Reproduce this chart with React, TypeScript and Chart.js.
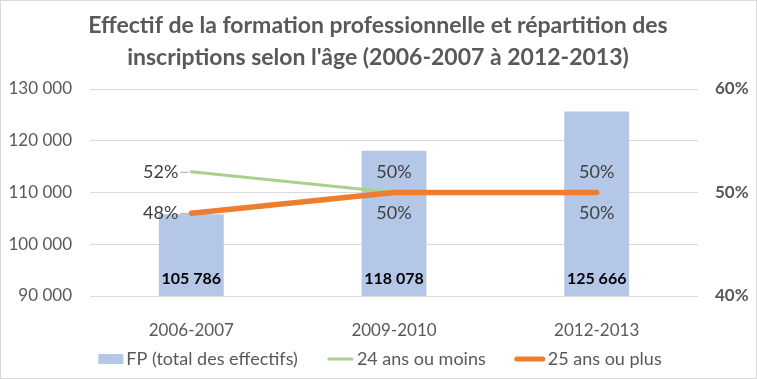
import React, { useEffect, useRef } from "react";
import { Chart, registerables } from "chart.js";

Chart.register(...registerables);

const categories = ["2006-2007", "2009-2010", "2012-2013"];
const totalFP = [105786, 118078, 125666];
const age24OrLess = [0.52, 0.5, 0.5];
const age25OrMore = [0.48, 0.5, 0.5];
const titleLines = [
  "Effectif de la formation professionnelle et répartition des",
  "inscriptions selon l'âge (2006-2007 à 2012-2013)",
];
const seriesNames = ["FP (total des effectifs)", "24 ans ou moins", "25 ans ou plus"];
const greenLabelPos = ["left", "above", "above"];
const orangeLabelPos = ["left", "below", "below"];

const FONT = "Lato, 'Open Sans', sans-serif";
const BAR_COLOR = "#B4C7E7";
const GREEN = "#A9D18E";
const ORANGE = "#ED7D31";
const TEXT = "#595959";

const fmtThousands = (v: number) =>
  String(Math.round(v)).replace(/\B(?=(\d{3})+(?!\d))/g, " ");

const decorPlugin = {
  id: "decor",
  beforeDraw(chart: any) {
    const { ctx, width, height } = chart;
    ctx.save();
    ctx.fillStyle = "#ffffff";
    ctx.fillRect(0, 0, width, height);
    ctx.strokeStyle = "#d9d9d9";
    ctx.lineWidth = 1;
    ctx.strokeRect(0.5, 0.5, width - 1, height - 1);
    // title
    ctx.fillStyle = TEXT;
    ctx.font = `bold 23px ${FONT}`;
    ctx.textAlign = "center";
    ctx.textBaseline = "alphabetic";
    ctx.fillText(titleLines[0], 378, 33);
    ctx.fillText(titleLines[1], 378, 65);
    ctx.restore();
  },
  afterDraw(chart: any) {
    const { ctx } = chart;
    ctx.save();
    ctx.font = `18px ${FONT}`;
    ctx.textBaseline = "middle";
    ctx.textAlign = "left";
    const swW = [25, 27, 30];
    const gapText = 3;
    const gapItem = 29;
    const widths = seriesNames.map((n) => ctx.measureText(n).width);
    let total = 0;
    widths.forEach((w, i) => {
      total += swW[i] + gapText + w;
      if (i < widths.length - 1) total += gapItem;
    });
    let x = 380 - total / 2;
    const y = 359;
    seriesNames.forEach((n, i) => {
      if (i === 0) {
        ctx.fillStyle = BAR_COLOR;
        ctx.fillRect(x, y - 5, swW[i], 10);
      } else {
        ctx.strokeStyle = i === 1 ? GREEN : ORANGE;
        ctx.lineWidth = i === 1 ? 3 : 5;
        ctx.lineCap = "round";
        ctx.beginPath();
        ctx.moveTo(x + 2, y);
        ctx.lineTo(x + swW[i] - 2, y);
        ctx.stroke();
      }
      x += swW[i] + gapText;
      ctx.fillStyle = TEXT;
      ctx.fillText(n, x, y);
      x += widths[i] + gapItem;
    });
    ctx.restore();
  },
  afterDatasetsDraw(chart: any) {
    const { ctx } = chart;
    ctx.save();
    // bar labels
    const barMeta = chart.getDatasetMeta(0);
    const yScale = chart.scales.y;
    ctx.font = `bold 16px ${FONT}`;
    ctx.fillStyle = "#000000";
    ctx.textAlign = "center";
    ctx.textBaseline = "middle";
    barMeta.data.forEach((el: any, i: number) => {
      ctx.fillText(fmtThousands(totalFP[i]), el.x, yScale.bottom - 17);
    });
    // line labels
    ctx.font = `18px ${FONT}`;
    const drawLineLabels = (dsIndex: number, values: number[], pos: string[]) => {
      const meta = chart.getDatasetMeta(dsIndex);
      meta.data.forEach((el: any, i: number) => {
        const txt = Math.round(values[i] * 100) + "%";
        ctx.fillStyle = "#404040";
        if (pos[i] === "left") {
          ctx.textAlign = "right";
          ctx.fillText(txt, el.x - 13, el.y);
          ctx.strokeStyle = "#a6a6a6";
          ctx.lineWidth = 1;
          ctx.beginPath();
          ctx.moveTo(el.x - 11, el.y + 0.5);
          ctx.lineTo(el.x - 3, el.y + 0.5);
          ctx.stroke();
        } else if (pos[i] === "above") {
          ctx.textAlign = "center";
          ctx.fillText(txt, el.x, el.y - 20);
        } else {
          ctx.textAlign = "center";
          ctx.fillText(txt, el.x, el.y + 21);
        }
      });
    };
    drawLineLabels(1, age24OrLess, greenLabelPos);
    drawLineLabels(2, age25OrMore, orangeLabelPos);
    ctx.restore();
  },
};

export default function App() {
  const ref = useRef<HTMLCanvasElement | null>(null);
  useEffect(() => {
    if (!ref.current) return;
    const chart = new Chart(ref.current, {
      type: "bar",
      data: {
        labels: categories,
        datasets: [
          {
            type: "bar",
            label: seriesNames[0],
            data: totalFP,
            backgroundColor: BAR_COLOR,
            yAxisID: "y",
            order: 3,
            barPercentage: 0.32,
            categoryPercentage: 1,
          },
          {
            type: "line",
            label: seriesNames[1],
            data: age24OrLess,
            borderColor: GREEN,
            backgroundColor: GREEN,
            borderWidth: 3,
            pointRadius: 0,
            yAxisID: "y1",
            order: 2,
            borderCapStyle: "round",
          },
          {
            type: "line",
            label: seriesNames[2],
            data: age25OrMore,
            borderColor: ORANGE,
            backgroundColor: ORANGE,
            borderWidth: 5.5,
            pointRadius: 0,
            yAxisID: "y1",
            order: 1,
            borderCapStyle: "round",
          },
        ],
      } as any,
      options: {
        responsive: false,
        animation: false,
        devicePixelRatio: 1,
        layout: { padding: { top: 89, left: 0, right: 0, bottom: 0 } },
        plugins: {
          legend: { display: false },
          title: { display: false },
          tooltip: { enabled: false },
        },
        scales: {
          x: {
            grid: { display: false },
            border: { display: false },
            ticks: { color: TEXT, font: { family: FONT, size: 17 }, padding: 16 },
            afterFit: (s: any) => {
              s.height = 83;
            },
          },
          y: {
            position: "left",
            min: 90000,
            max: 130000,
            ticks: {
              stepSize: 10000,
              color: TEXT,
              font: { family: FONT, size: 17 },
              padding: 18,
              callback: (v: any) => fmtThousands(Number(v)),
            },
            grid: { color: "#d9d9d9", drawTicks: false },
            border: { display: false },
            afterFit: (s: any) => {
              s.width = 90;
            },
          },
          y1: {
            position: "right",
            min: 0.4,
            max: 0.6,
            ticks: {
              stepSize: 0.1,
              color: TEXT,
              font: { family: FONT, size: 17, weight: "bold" },
              padding: 17,
              callback: (v: any) => Math.round(Number(v) * 100) + "%",
            },
            grid: { display: false, drawTicks: false },
            border: { display: false },
            afterFit: (s: any) => {
              s.width = 59;
            },
          },
        },
      } as any,
      plugins: [decorPlugin],
    });
    return () => chart.destroy();
  }, []);
  return (
    <div style={{ position: "fixed", left: 0, top: 0, width: 757, height: 379 }}>
      <canvas ref={ref} width={757} height={379} />
    </div>
  );
}
